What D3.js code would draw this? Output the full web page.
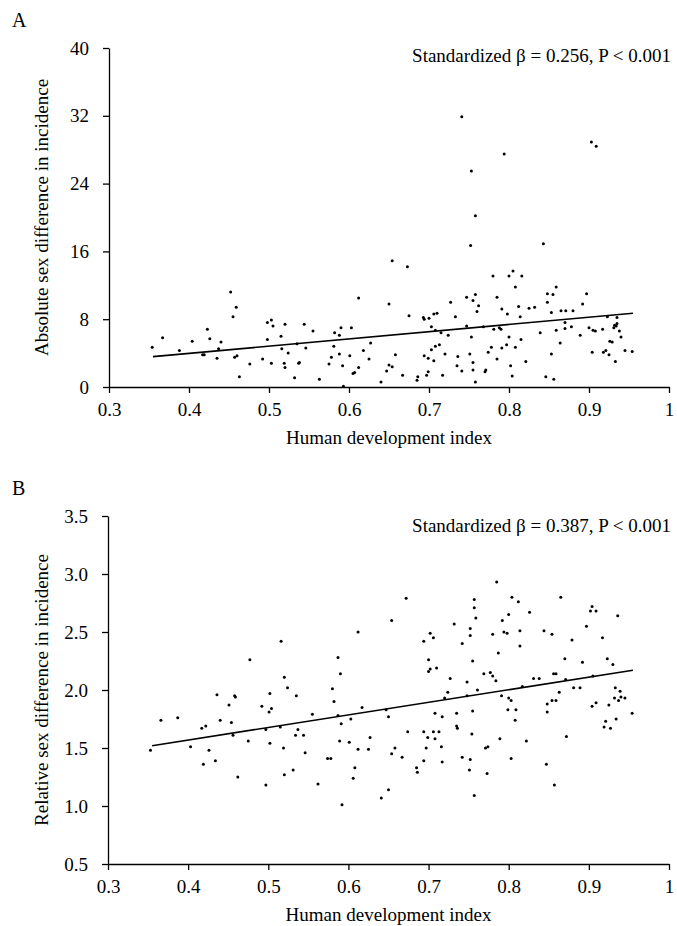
<!DOCTYPE html>
<html>
<head>
<meta charset="utf-8">
<script src="https://cdn.jsdelivr.net/npm/d3@7"></script>
<style>
  body { margin: 0; background: #fff; }
  svg text { font-family: "Liberation Serif", "Times New Roman", serif; fill: #000; }
</style>
</head>
<body>
<svg id="chart" width="677" height="926"></svg>
<script>
// panel A: HDI vs absolute sex difference
var hdiA = [0.354,0.367,0.388,0.404,0.417,0.419,0.423,0.426,0.435,0.437,0.440,0.452,0.455,0.459,0.457,0.460,0.463,0.476,0.492,0.498,
  0.498,0.503,0.505,0.503,0.515,0.516,0.520,0.519,0.520,0.524,0.532,0.537,0.538,0.535,
  0.741,0.753,0.758,0.752,0.654,0.673,0.612,0.650,0.675,0.693,0.694,0.700,0.706,0.710,0.727,0.733,0.747,0.755,0.758,0.762,
  0.760,0.544,0.555,0.546,0.582,0.588,0.590,0.603,0.581,0.588,0.601,0.618,0.627,0.563,0.575,0.578,0.592,0.593,0.605,0.607,
  0.612,0.625,0.640,0.647,0.650,0.654,0.658,0.667,0.685,0.686,0.694,0.699,0.697,0.699,0.703,0.703,0.706,0.708,0.708,0.713,
  0.715,0.717,0.720,0.724,0.736,0.735,0.741,0.747,0.751,0.753,0.755,0.755,0.758,0.768,0.770,0.771,0.774,
  0.794,0.903,0.909,0.843,0.780,0.800,0.805,0.816,0.808,0.785,0.859,0.848,0.855,0.897,0.892,0.848,0.791,0.798,0.812,0.814,
  0.825,0.832,0.853,0.865,0.871,0.880,0.870,0.923,0.935,0.781,0.788,0.790,0.839,0.859,0.870,0.878,0.900,0.905,0.908,0.917,
  0.931,0.932,0.935,0.934,0.938,0.940,0.889,0.800,0.815,0.864,0.926,0.929,0.778,0.791,0.797,0.808,0.785,0.853,0.904,0.918,
  0.921,0.925,0.933,0.945,0.954,0.802,0.821,0.804,0.846,0.856];
var absDiff = [4.7,5.8,4.3,5.4,3.8,3.8,6.8,5.7,3.4,4.5,5.3,11.2,8.3,9.4,3.5,3.7,1.2,2.7,3.3,7.6,
  5.6,7.9,7.2,2.8,6.0,4.5,7.4,2.8,2.3,4.0,1.1,2.8,2.9,5.1,
  31.9,25.5,20.2,16.7,14.9,14.2,10.5,9.8,8.4,8.2,8.0,8.1,8.6,8.7,10.0,8.3,10.6,10.2,10.9,9.6,
  8.9,7.4,6.6,4.6,6.4,6.1,7.0,7.0,4.8,3.9,3.7,4.3,5.2,0.9,2.7,3.5,2.5,0.1,1.6,1.7,
  2.3,3.3,0.6,1.9,2.6,2.4,3.8,1.4,0.8,1.2,3.7,3.4,1.4,1.8,7.1,4.4,3.1,4.8,6.7,5.0,
  6.4,1.4,3.9,6.1,3.6,2.5,1.9,7.2,3.9,5.9,2.9,2.0,0.6,7.1,1.8,2.0,4.1,
  27.5,28.9,28.4,16.9,13.1,13.1,13.7,13.1,11.8,10.6,11.8,11.0,10.9,11.0,9.8,10.0,9.2,8.6,9.5,8.3,
  9.3,9.4,8.8,9.0,9.0,9.0,7.6,8.3,8.2,6.8,7.0,6.8,6.4,6.7,6.9,7.1,7.0,6.7,6.6,6.8,
  7.0,7.3,7.5,7.2,6.6,5.9,6.1,5.9,5.6,5.2,5.4,5.3,4.7,4.6,5.0,4.7,3.3,3.9,4.1,4.1,
  4.3,3.8,3.0,4.3,4.2,2.5,3.0,1.3,1.2,0.9];

// panel B: HDI vs relative sex difference
var hdiB = [0.353,0.366,0.387,0.403,0.417,0.422,0.419,0.426,0.434,0.436,0.440,0.451,0.454,0.456,0.458,0.459,0.462,0.475,0.477,0.492,
  0.497,0.497,0.502,0.501,0.504,0.502,0.515,0.516,0.519,0.520,0.524,0.520,0.531,0.535,0.534,0.537,
  0.672,0.654,0.612,0.587,0.590,0.580,0.582,0.555,0.587,0.617,0.591,0.603,0.647,0.650,0.544,0.546,0.562,0.574,0.578,0.589,
  0.601,0.592,0.608,0.606,0.612,0.625,0.627,0.641,0.650,0.654,0.658,0.667,0.674,0.685,0.686,0.694,0.694,0.702,0.706,0.700,
  0.700,0.702,0.710,0.694,0.699,0.697,0.706,0.713,0.708,0.716,0.717,0.708,0.717,0.720,0.724,0.727,0.732,0.742,0.752,0.752,
  0.757,0.757,0.759,0.755,0.748,0.748,0.761,0.769,0.735,0.735,0.736,0.755,0.754,0.742,0.752,0.751,0.757,0.771,0.774,0.773,
  0.785,0.804,0.812,0.865,0.800,0.826,0.792,0.794,0.798,0.780,0.814,0.814,0.787,0.844,0.854,0.904,0.902,0.909,0.936,0.897,
  0.879,0.917,0.870,0.892,0.923,0.930,0.777,0.780,0.784,0.831,0.838,0.856,0.859,0.871,0.905,0.817,0.881,0.889,0.933,0.939,
  0.791,0.800,0.803,0.863,0.854,0.859,0.848,0.799,0.809,0.808,0.848,0.904,0.909,0.925,0.932,0.937,0.940,0.945,0.954,0.921,
  0.934,0.919,0.927,0.872,0.789,0.822,0.803,0.847,0.857];
var relDiff = [1.48,1.74,1.76,1.51,1.67,1.69,1.36,1.48,1.39,1.96,1.74,1.87,1.72,1.61,1.95,1.94,1.25,1.56,2.26,1.86,
  1.66,1.18,1.97,1.81,1.84,1.54,1.68,2.42,1.50,2.11,2.02,1.27,1.31,1.95,1.61,1.66,
  2.79,2.60,2.50,2.28,2.14,2.01,1.90,1.79,1.78,1.85,1.71,1.75,1.83,1.77,1.61,1.46,1.19,1.41,1.41,1.56,
  1.55,1.01,1.33,1.24,1.49,1.49,1.59,1.07,1.14,1.45,1.50,1.42,1.64,1.33,1.29,1.39,2.42,2.49,2.45,2.26,
  2.16,2.18,2.19,1.64,1.59,1.50,1.64,1.64,1.58,1.51,1.38,1.80,1.77,1.93,1.98,2.10,2.57,2.40,2.47,2.53,
  2.78,2.71,2.62,2.25,2.07,1.95,2.00,2.14,1.80,1.69,1.67,1.82,1.62,1.42,1.40,1.31,1.09,1.50,1.51,1.28,
  2.93,2.80,2.76,2.80,2.65,2.67,2.60,2.50,2.49,2.48,2.51,2.38,2.32,2.51,2.48,2.72,2.68,2.68,2.64,2.55,
  2.43,2.45,2.27,2.24,2.27,2.22,2.15,2.12,2.08,2.10,2.10,2.14,2.14,2.09,2.12,2.03,2.02,2.02,2.02,1.99,
  1.95,1.93,1.91,1.98,1.91,1.91,1.88,1.83,1.83,1.74,1.81,1.86,1.89,1.87,1.93,1.91,1.94,1.93,1.80,1.73,
  1.75,1.68,1.67,1.60,1.58,1.56,1.41,1.36,1.18];

// fitted lines (start / end)
var fitA = [[0.355, 3.58], [0.955, 8.7]];
var fitB = [[0.355, 1.52], [0.955, 2.17]];

var xTicks = [0.3, 0.4, 0.5, 0.6, 0.7, 0.8, 0.9, 1];
var yTicksA = [0, 8, 16, 24, 32, 40];
var yTicksB = [0.5, 1.0, 1.5, 2.0, 2.5, 3.0, 3.5];

var svg = d3.select("#chart");
var FS = 19;

function drawPanel(p) {
    var g = svg.append("g");
    var x = d3.scaleLinear().domain([0.3, 1]).range([p.left, p.right]);
    var y = d3.scaleLinear().domain(p.yDomain).range([p.bottom, p.top]);

    // axes
    var xAxis = d3.axisBottom(x).tickValues(xTicks).tickSize(6).tickSizeOuter(0).tickPadding(10)
        .tickFormat(function(d) { return d === 1 ? "1" : d.toFixed(1); });
    var yAxis = d3.axisLeft(y).tickValues(p.yTicks).tickSize(6).tickSizeOuter(0).tickPadding(14)
        .tickFormat(p.yFormat);

    var gx = g.append("g").attr("transform", "translate(0," + p.bottom + ")").call(xAxis);
    var gy = g.append("g").attr("transform", "translate(" + p.left + ",0)").call(yAxis);
    [gx, gy].forEach(function(a) {
        a.selectAll("path, line").attr("stroke", "#000").attr("stroke-width", 1.3);
        a.selectAll("text").attr("font-size", FS).attr("font-family", "Liberation Serif, Times New Roman, serif");
    });

    // points
    g.append("g").selectAll("circle")
        .data(p.xs.map(function(v, i) { return [v, p.ys[i]]; }))
        .enter().append("circle")
        .attr("cx", function(d) { return x(d[0]); })
        .attr("cy", function(d) { return y(d[1]); })
        .attr("r", 1.5)
        .attr("fill", "#000");

    // regression line
    g.append("path")
        .attr("d", d3.line().x(function(d) { return x(d[0]); }).y(function(d) { return y(d[1]); })(p.fit))
        .attr("fill", "none").attr("stroke", "#000").attr("stroke-width", 1.6);

    // labels
    g.append("text").attr("x", p.right + 2).attr("y", p.top + p.noteDy)
        .attr("text-anchor", "end").attr("font-size", FS).text(p.note);
    g.append("text").attr("x", 12).attr("y", p.top - 21)
        .attr("font-size", FS + 1).text(p.letter);
    g.append("text").attr("x", (p.left + p.right) / 2).attr("y", p.bottom + 57)
        .attr("text-anchor", "middle").attr("font-size", FS).text("Human development index");
    g.append("text")
        .attr("transform", "translate(48," + (p.top + p.bottom) / 2 + ") rotate(-90)")
        .attr("text-anchor", "middle").attr("font-size", FS).text(p.yTitle);
}

drawPanel({
    left: 109, right: 669, top: 48, bottom: 387,
    yDomain: [0, 40], yTicks: yTicksA, yFormat: d3.format("d"),
    xs: hdiA, ys: absDiff, fit: fitA,
    note: "Standardized \u03b2 = 0.256, P < 0.001", noteDy: 14,
    letter: "A", yTitle: "Absolute sex difference in incidence"
});

drawPanel({
    left: 108, right: 669, top: 516, bottom: 864,
    yDomain: [0.5, 3.5], yTicks: yTicksB, yFormat: d3.format(".1f"),
    xs: hdiB, ys: relDiff, fit: fitB,
    note: "Standardized \u03b2 = 0.387, P < 0.001", noteDy: 16,
    letter: "B", yTitle: "Relative sex difference in incidence"
});
</script>
</body>
</html>
